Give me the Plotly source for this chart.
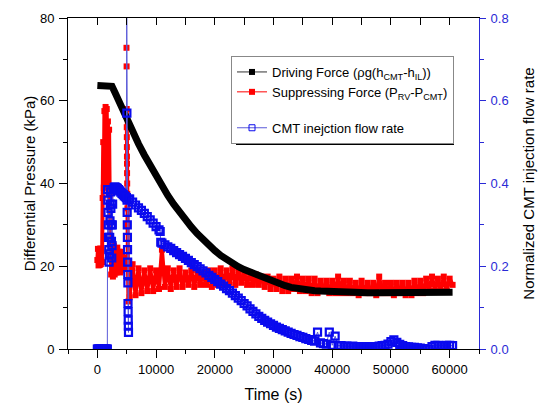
import plotly.graph_objects as go

# ---------------- data ----------------
# Driving force (kPa)
black_t = [0, 500, 1000, 1500, 2000, 2500] + list(range(3000, 61000, 1000)) + [60500]
black_v = [63.7, 63.7, 63.7, 63.7, 63.7, 63.5,
           62.0, 58.7, 55.5, 52.5, 49.6, 46.9, 44.3, 41.8,
           39.4, 37.1, 35.0, 33.0, 31.2, 29.5, 27.9, 26.4, 25.0, 23.8,
           22.6, 21.6, 20.7, 19.9, 19.2, 18.6, 18.0, 17.4, 16.8, 16.2,
           15.7, 15.3, 14.9, 14.6, 14.4, 14.2, 14.1, 14.0, 13.9, 13.8,
           13.8, 13.7, 13.7, 13.7, 13.6, 13.6, 13.6, 13.6, 13.6, 13.6,
           13.6, 13.6, 13.6, 13.6, 13.6, 13.6, 13.6, 13.7, 13.7, 13.7,
           13.7]

# Suppressing force (kPa)
red_t_early = [0, 100, 200, 300, 400, 500, 600, 700, 800,
               900, 1000, 1100, 1200, 1300, 1400, 1500, 1600, 1700, 1800,
               1900, 2000, 2100, 2200,
               2350, 2500, 2650, 2800, 2950, 3100, 3250, 3400, 3550, 3700,
               3850, 4000, 4150, 4300, 4450, 4600, 4750, 4850,
               4950, 4960, 4970, 4980, 4990, 5000, 5010, 5020, 5030,
               5040, 5050, 5060, 5080, 5100, 5120, 5150, 5200, 5300, 5400]
red_v_early = [21.5, 24.2, 20.2, 24.0, 20.3, 24.3, 20.5, 24.0, 21.0,
               36.5, 50.0, 39.0, 57.5, 41.0, 58.5, 44.0, 58.0, 40.0, 55.0,
               38.0, 53.0, 37.0, 25.0,
               18.0, 24.5, 17.5, 25.0, 18.0, 24.0, 18.5, 24.5, 19.0, 23.5,
               18.5, 23.5, 19.0, 22.5, 19.5, 22.0, 19.5, 21.0,
               None, 72.8, None, 68.3, None, 58.0, 53.6, 51.2, 48.8,
               46.5, 44.8, 42.5, 40.0, 37.5, 34.0, 30.0, 21.0, 11.5, 21.0]
red_t_tail = list(range(5500, 61000, 500))
red_v_tail = [12.5, 20.5, 13.0, 19.5, 13.5, 19.0, 14.0, 19.5, 14.0, 19.0,
              14.5, 24.0, 15.0, 19.5, 14.5, 19.0, 15.0, 19.5, 15.0, 18.5,
              15.5, 19.0, 15.0, 19.0, 15.5, 18.5, 15.5, 19.0, 15.0, 19.0,
              15.5, 19.5, 15.5, 19.0, 16.0, 19.5, 15.5, 19.0, 16.0, 18.5,
              15.5, 18.5, 15.5, 18.0, 15.5, 17.5, 15.0, 17.5, 14.5, 17.0,
              14.5, 17.5, 14.0, 17.0, 14.0, 17.0, 14.5, 17.5, 14.0, 17.0,
              14.0, 17.0, 13.5, 17.0, 13.5, 16.5, 14.0, 16.5, 13.5, 16.5,
              13.5, 17.5, 13.5, 16.5, 13.5, 16.5, 13.5, 16.0, 13.0, 16.5,
              13.5, 16.0, 13.5, 16.0, 13.0, 17.5, 13.5, 16.0, 13.5, 16.0,
              13.0, 16.0, 13.5, 16.0, 13.0, 16.0, 13.0, 16.5, 13.5, 16.5,
              13.5, 17.0, 14.0, 17.5, 14.0, 17.0, 14.0, 17.5, 14.0, 17.0,
              15.5]
red_t = red_t_early + red_t_tail
red_v = red_v_early + red_v_tail

# Normalized CMT injection flow rate
blue_t_early = [0, 100, 200, 300, 400, 500, 600, 700, 800, 900,
                1000, 1100, 1200, 1300, 1400, 1500, 1600, 1700,
                1750, 1780, 1820, 1860, 1900, 1950, 2000, 2050, 2100, 2150,
                2200, 2250, 2300, 2350, 2400, 2450, 2500, 2550, 2600, 2700,
                2850, 3000, 3200, 3400, 3600, 3800, 4000, 4200, 4400, 4600,
                4800, 4950, 5000, 5030, 5060, 5080, 5100, 5120, 5140, 5160,
                5180, 5200, 5220, 5240, 5260, 5280, 5300, 5400]
blue_v_early = [0, 0, 0, 0, 0, 0, 0, 0, 0, 0,
                0, 0, 0, 0, 0, 0, 0, 0,
                0.385, 0.36, 0.33, 0.30, 0.27, 0.24, 0.21, 0.23, 0.27, 0.31,
                0.35, 0.38, 0.34, 0.30, 0.26, 0.22, 0.25, 0.30, 0.35, 0.385,
                0.39, 0.392, 0.39, 0.388, 0.385, 0.382, 0.379, 0.376, 0.373, 0.37,
                0.368, 0.366, 0.85, 0.57, 0.36, 0.33, 0.30, 0.27, 0.24, 0.21,
                0.18, 0.16, 0.11, 0.09, 0.07, 0.055, 0.04, 0.362]
blue_t_tail = list(range(5500, 11000, 500)) + [10700, 10800] + list(range(11000, 61000, 500))
blue_v_tail = [0.362, 0.355, 0.348, 0.341, 0.335, 0.328, 0.320, 0.312, 0.304, 0.296, 0.288,
               0.284, 0.258,
               0.256, 0.252, 0.247, 0.243, 0.238, 0.233, 0.228, 0.224, 0.219, 0.214,
               0.209, 0.204, 0.199, 0.194, 0.189, 0.184, 0.178, 0.173, 0.168, 0.163,
               0.157, 0.152, 0.146, 0.141, 0.135, 0.129, 0.123, 0.117, 0.110, 0.104,
               0.097, 0.091, 0.085, 0.079, 0.074, 0.069, 0.065, 0.061, 0.057, 0.053,
               0.050, 0.047, 0.044, 0.041, 0.038, 0.035, 0.033, 0.030, 0.028, 0.025,
               0.023, 0.021, 0.019, 0.041, 0.015, 0.013, 0.012, 0.041, 0.009, 0.031,
               0.008, 0.008, 0.007, 0.007, 0.006, 0.007, 0.006, 0.006, 0.006, 0.005,
               0.006, 0.005, 0.006, 0.006, 0.007, 0.008, 0.009, 0.012, 0.018, 0.022,
               0.016, 0.011, 0.008, 0.006, 0.005, 0.004, 0.004, 0.003, 0.002, 0.001,
               0.000, 0.000, 0.006, 0.009, 0.009, 0.008, 0.008, 0.009, 0.009, 0.008]
blue_t = blue_t_early + blue_t_tail
blue_v = blue_v_early + blue_v_tail

x_ticks = [0, 10000, 20000, 30000, 40000, 50000, 60000]
names = ["Driving Force (\u03c1g(h<sub>CMT</sub>-h<sub>IL</sub>))",
         "Suppressing Force (P<sub>RV</sub>-P<sub>CMT</sub>)",
         "CMT inejction flow rate"]

# ---------------- style ----------------
FONT = "Liberation Sans, Arial, sans-serif"
BLACK = "#000000"
RED = "#ff0000"
BLUE = "#0a0aee"
BLUE_LINE = "#5a5ad8"
AXBLUE = "#2a2ad6"

W, H = 547, 403
ML, MR, MT, MB = 68, 68, 18, 54
PW, PH = W - ML - MR, H - MT - MB

fig = go.Figure()

# red band
fig.add_trace(go.Scatter(x=red_t, y=red_v, mode="lines+markers",
                         line=dict(color=RED, width=4),
                         marker=dict(symbol="square", size=6, color=RED),
                         connectgaps=False, showlegend=False, hoverinfo="skip"))
# black band
fig.add_trace(go.Scatter(x=black_t, y=black_v, mode="lines",
                         line=dict(color=BLACK, width=7),
                         showlegend=False, hoverinfo="skip"))
# blue flow rate on secondary axis
fig.add_trace(go.Scatter(x=blue_t, y=blue_v, mode="lines+markers", yaxis="y2",
                         line=dict(color=BLUE_LINE, width=1),
                         marker=dict(symbol="square-open", size=7, color=BLUE,
                                     line=dict(width=2.2, color=BLUE)),
                         showlegend=False, hoverinfo="skip"))

# legend entries
fig.add_trace(go.Scatter(x=[None], y=[None], mode="lines+markers", name=names[0],
                         line=dict(color="#333333", width=1),
                         marker=dict(symbol="square", size=6, color=BLACK),
                         legendgroup="a"))
fig.add_trace(go.Scatter(x=[None], y=[None], mode="lines+markers", name=names[1],
                         line=dict(color=RED, width=1),
                         marker=dict(symbol="square", size=6, color=RED),
                         legendgroup="a"))
fig.add_trace(go.Scatter(x=[None], y=[None], mode="lines+markers", name=names[2],
                         line=dict(color=BLUE_LINE, width=1),
                         marker=dict(symbol="square-open", size=6, color=BLUE,
                                     line=dict(width=1, color=BLUE)),
                         legendgroup="b"))
# helper for top axis
fig.add_trace(go.Scatter(x=[None], y=[None], xaxis="x3", showlegend=False,
                         hoverinfo="skip"))

# legend geometry (pixels)
LX, LY = 231, 56
def px2paper_x(px):
    return (px - ML) / PW
def px2paper_y(py):
    return (MT + PH - py) / PH

LEG_W, LEG_H, SH = 218, 84, 5
fig.add_shape(type="rect", xref="paper", yref="paper",
              x0=px2paper_x(LX + SH), x1=px2paper_x(LX + LEG_W + SH),
              y0=px2paper_y(LY + LEG_H + SH), y1=px2paper_y(LY + SH),
              fillcolor="black", line=dict(width=0), layer="above")

fig.update_layout(
    width=W, height=H,
    margin=dict(l=ML, r=MR, t=MT, b=MB, autoexpand=False),
    paper_bgcolor="white", plot_bgcolor="white",
    font=dict(family=FONT, size=13, color="black"),
    showlegend=True,
    legend=dict(x=px2paper_x(LX), y=px2paper_y(LY), xanchor="left", yanchor="top",
                bgcolor="white", bordercolor="#888888", borderwidth=1,
                font=dict(family=FONT, size=13, color="black"),
                traceorder="grouped", tracegroupgap=16,
                itemwidth=30),
    xaxis=dict(range=[-5000, 65000], tickvals=x_ticks,
               ticktext=[str(v) for v in x_ticks], automargin=False,
               showgrid=False, zeroline=False, showline=True, linecolor="black",
               linewidth=1, ticks="outside", ticklen=8, tickcolor="black",
               ticklabelstandoff=0,
               minor=dict(dtick=5000, tick0=0, ticks="outside", ticklen=4,
                          tickcolor="black"),
               tickfont=dict(size=13),
               title=dict(text="Time (s)", font=dict(size=16), standoff=14)),
    xaxis3=dict(range=[-5000, 65000], overlaying="x", side="top", anchor="y",
                automargin=False,
                showgrid=False, zeroline=False, showline=True, linecolor="black",
                linewidth=1, ticks="inside", ticklen=7, tickcolor="black",
                tick0=0, dtick=5000, showticklabels=False),
    yaxis=dict(range=[0, 80], dtick=20, tick0=0, automargin=False,
               showgrid=False, zeroline=False, showline=True, linecolor="black",
               linewidth=1, ticks="outside", ticklen=8, tickcolor="black",
               ticklabelstandoff=2,
               minor=dict(dtick=10, ticks="outside", ticklen=4, tickcolor="black"),
               tickfont=dict(size=13),
               title=dict(text="Differential Pressure (kPa)", font=dict(size=15),
                          standoff=0)),
    yaxis2=dict(range=[0, 0.8], dtick=0.2, tick0=0, tickformat=".1f",
                overlaying="y", side="right", anchor="x", automargin=False,
                showgrid=False, zeroline=False, showline=True, linecolor=AXBLUE,
                linewidth=1, ticks="outside", ticklen=6, tickcolor=AXBLUE,
                ticklabelstandoff=2,
                minor=dict(dtick=0.1, ticks="outside", ticklen=4, tickcolor=AXBLUE),
                tickfont=dict(size=13, color=AXBLUE),
                title=dict(text="Normalized CMT injection flow rate",
                           font=dict(size=15, color="black"), standoff=15)),
)

fig.write_html("out.html", config={"displayModeBar": False},
               post_script="document.body.style.margin='0px';document.body.style.padding='0px';")
